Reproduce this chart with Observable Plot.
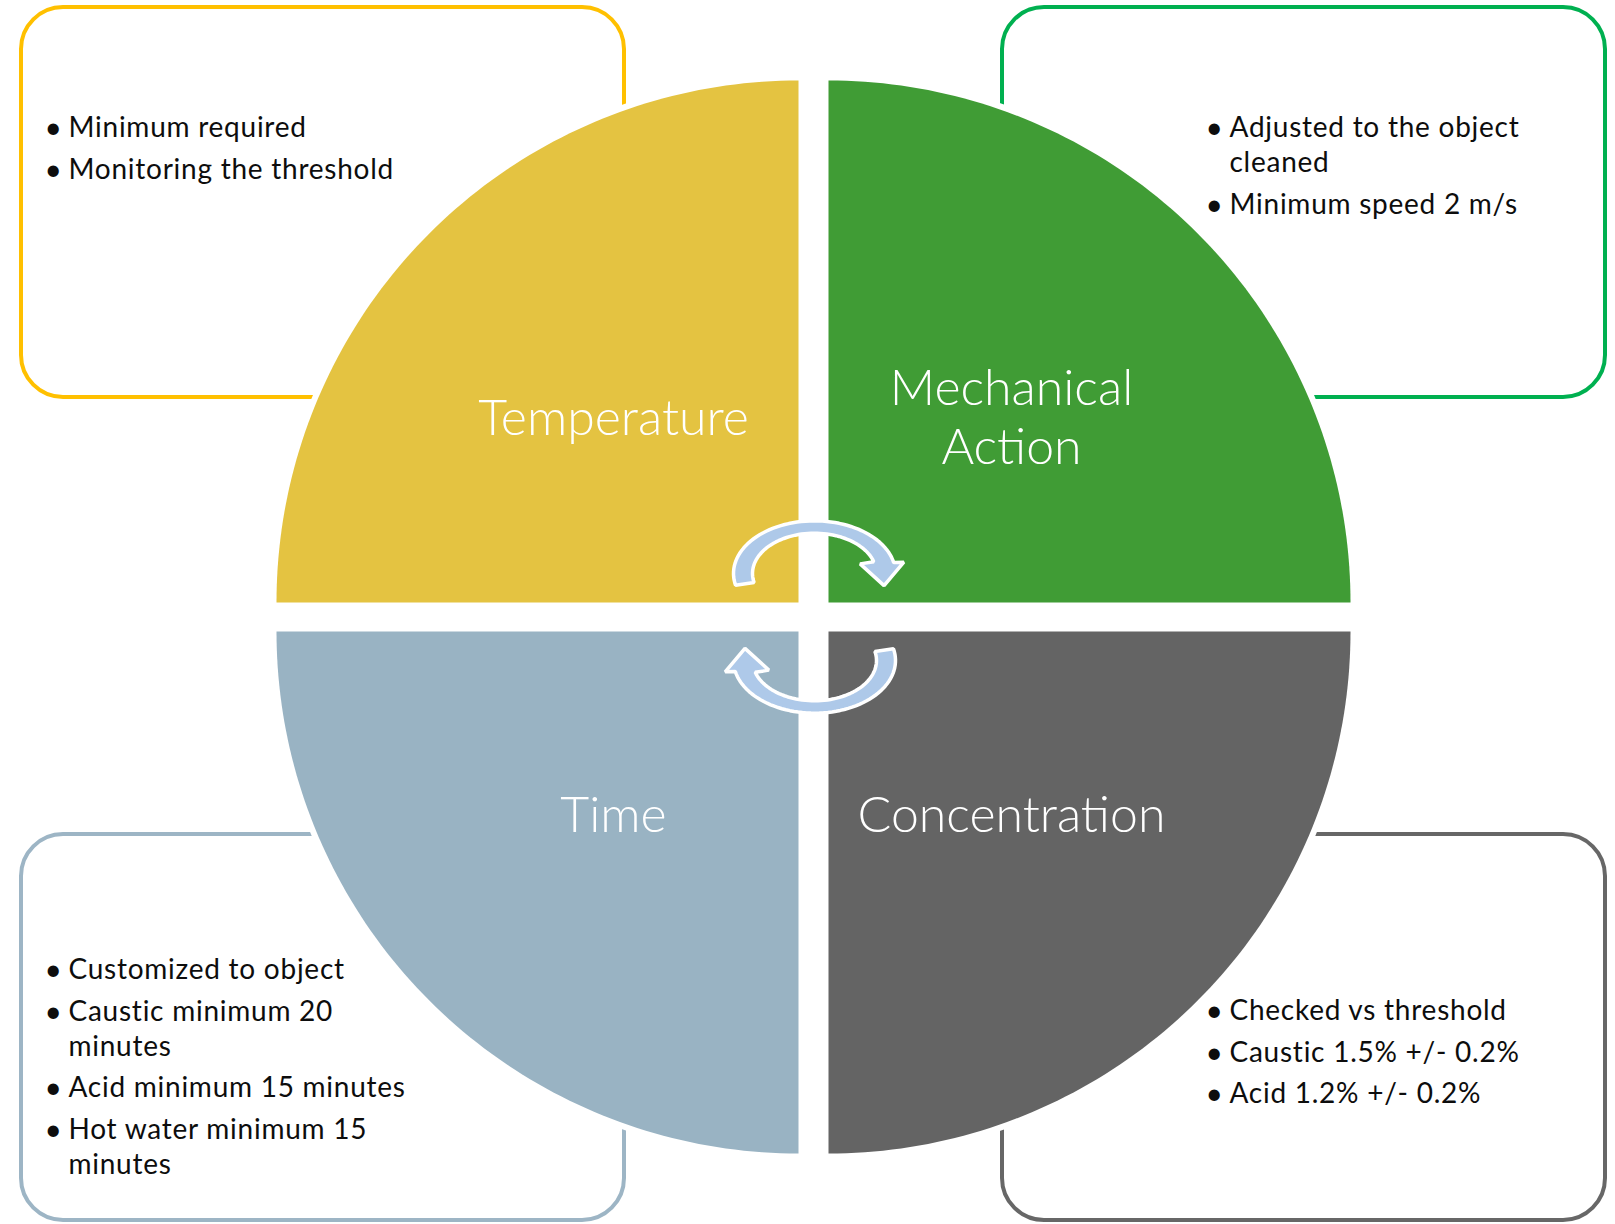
<!DOCTYPE html>
<html>
<head>
<meta charset="utf-8">
<script src="https://cdn.jsdelivr.net/npm/d3@7"></script>
<script src="https://cdn.jsdelivr.net/npm/@observablehq/plot@0.6"></script>
<style>
  html, body { margin: 0; padding: 0; background: #ffffff; }
  #chart svg { display: block; }
</style>
</head>
<body>
<div id="chart"></div>
<script>
// ---- Data ----
const quadrantLabels = ["Temperature", "Mechanical\nAction", "Time", "Concentration"];
const quadrantColors = ["#E4C341", "#409C35", "#99B3C3", "#646464"];
const boxColors = ["#FFC000", "#00B050", "#9DB5C5", "#676767"];
const temperatureNotes = ["Minimum required", "Monitoring the threshold"];
const mechanicalNotes = ["Adjusted to the object\ncleaned", "Minimum speed 2 m/s"];
const timeNotes = ["Customized to object", "Caustic minimum 20\nminutes", "Acid minimum 15 minutes", "Hot water minimum 15\nminutes"];
const concentrationNotes = ["Checked vs threshold", "Caustic 1.5% +/- 0.2%", "Acid 1.2% +/- 0.2%"];
const notes = [temperatureNotes, mechanicalNotes, timeNotes, concentrationNotes];

// ---- Layout ----
const W = 1615, H = 1224;
const R = 522;
const centers = [[798, 602], [828, 602], [798, 631], [828, 631]];
const angleRanges = [[180, 90], [90, 0], [-90, -180], [0, -90]];
const boxes = [
  {x1: 21, x2: 624, y1: 7, y2: 397},
  {x1: 1002, x2: 1605, y1: 7, y2: 397},
  {x1: 21, x2: 624, y1: 834, y2: 1220},
  {x1: 1002, x2: 1605, y1: 834, y2: 1220}
];
const labelPos = [{x: 613, y: 434}, {x: 1011, y: 463}, {x: 613, y: 831}, {x: 1011, y: 831}];
const noteStart = [{x: 68, y: 128}, {x: 1229, y: 128}, {x: 68, y: 970}, {x: 1229, y: 1011}];
const lineStep = 35, itemGap = 6.5, bulletOffset = 24;

const rad = (d) => d * Math.PI / 180;

function wedge(i, extra) {
  const [cx, cy] = centers[i];
  const [a0, a1] = angleRanges[i];
  const pts = [{x: cx, y: cy}];
  const n = 90;
  for (let j = 0; j <= n; j++) {
    const a = rad(a0 + (a1 - a0) * j / n);
    pts.push({x: cx + (R + extra) * Math.cos(a), y: cy - (R + extra) * Math.sin(a)});
  }
  return pts;
}

function arrow(cx, cy, rot) {
  const sy = 0.65;
  const P = (r, t) => {
    const a = rad(t + rot);
    return {x: cx + r * Math.cos(a), y: cy - sy * r * Math.sin(a)};
  };
  const pts = [];
  const start = 193, endOut = 12, endIn = 17;
  const n = 60;
  for (let j = 0; j <= n; j++) pts.push(P(81, start + (endOut - start) * j / n));
  pts.push(P(91, 11));
  pts.push(P(72, -15));
  pts.push(P(48, 18));
  for (let j = 0; j <= n; j++) pts.push(P(62, endIn + (start - endIn) * j / n));
  return pts;
}

// note lines
const noteLines = [];
const bullets = [];
notes.forEach((items, q) => {
  let y = noteStart[q].y;
  items.forEach((item) => {
    const lines = item.split("\n");
    bullets.push({x: noteStart[q].x - bulletOffset, y});
    lines.forEach((ln) => {
      noteLines.push({x: noteStart[q].x, y, text: ln});
      y += lineStep;
    });
    y += itemGap;
  });
});

const labels = quadrantLabels.map((t, i) => ({text: t, ...labelPos[i]}));

const marks = [];
boxes.forEach((b, i) => {
  marks.push(Plot.rect([b], {x1: "x1", x2: "x2", y1: "y1", y2: "y2", rx: 42, ry: 42, fill: "white", stroke: boxColors[i], strokeWidth: 4}));
});
for (let i = 0; i < 4; i++) {
  marks.push(Plot.line(wedge(i, 6), {x: "x", y: "y", curve: "linear-closed", fill: "white", stroke: "none"}));
}
for (let i = 0; i < 4; i++) {
  marks.push(Plot.line(wedge(i, 0), {x: "x", y: "y", curve: "linear-closed", fill: quadrantColors[i], stroke: "none"}));
}
marks.push(Plot.line(arrow(814, 573, 0), {x: "x", y: "y", curve: "linear-closed", fill: "#AEC9E9", stroke: "white", strokeWidth: 3.5, strokeLinejoin: "miter"}));
marks.push(Plot.line(arrow(814, 660, 180), {x: "x", y: "y", curve: "linear-closed", fill: "#AEC9E9", stroke: "white", strokeWidth: 3.5, strokeLinejoin: "miter"}));
marks.push(Plot.text(labels, {x: "x", y: "y", text: "text", fill: "white", fontSize: 50, fontWeight: 300, fontFamily: "Lato", lineAnchor: "bottom", lineHeight: 1.17, textAnchor: "middle"}));
marks.push(Plot.text(noteLines, {x: "x", y: "y", text: "text", fill: "#0d0d0d", fontSize: 28, fontFamily: "Lato", textAnchor: "start", lineAnchor: "middle"}));
marks.push(Plot.text(bullets, {x: "x", y: "y", text: () => "•", fill: "#0d0d0d", fontSize: 30, fontFamily: "Lato", textAnchor: "start", lineAnchor: "middle"}));

const chart = Plot.plot({
  width: W,
  height: H,
  margin: 0,
  x: {domain: [0, W], range: [0, W], axis: null},
  y: {domain: [0, H], range: [0, H], axis: null},
  style: {background: "white"},
  marks
});
// widen the note text slightly (letter spacing) to match the original typeface width
const textGroups = Array.from(chart.querySelectorAll("g")).filter((g) => g.querySelector(":scope > text"));
if (textGroups.length >= 2) textGroups[1].setAttribute("letter-spacing", "0.75");
document.getElementById("chart").appendChild(chart);
</script>
</body>
</html>
